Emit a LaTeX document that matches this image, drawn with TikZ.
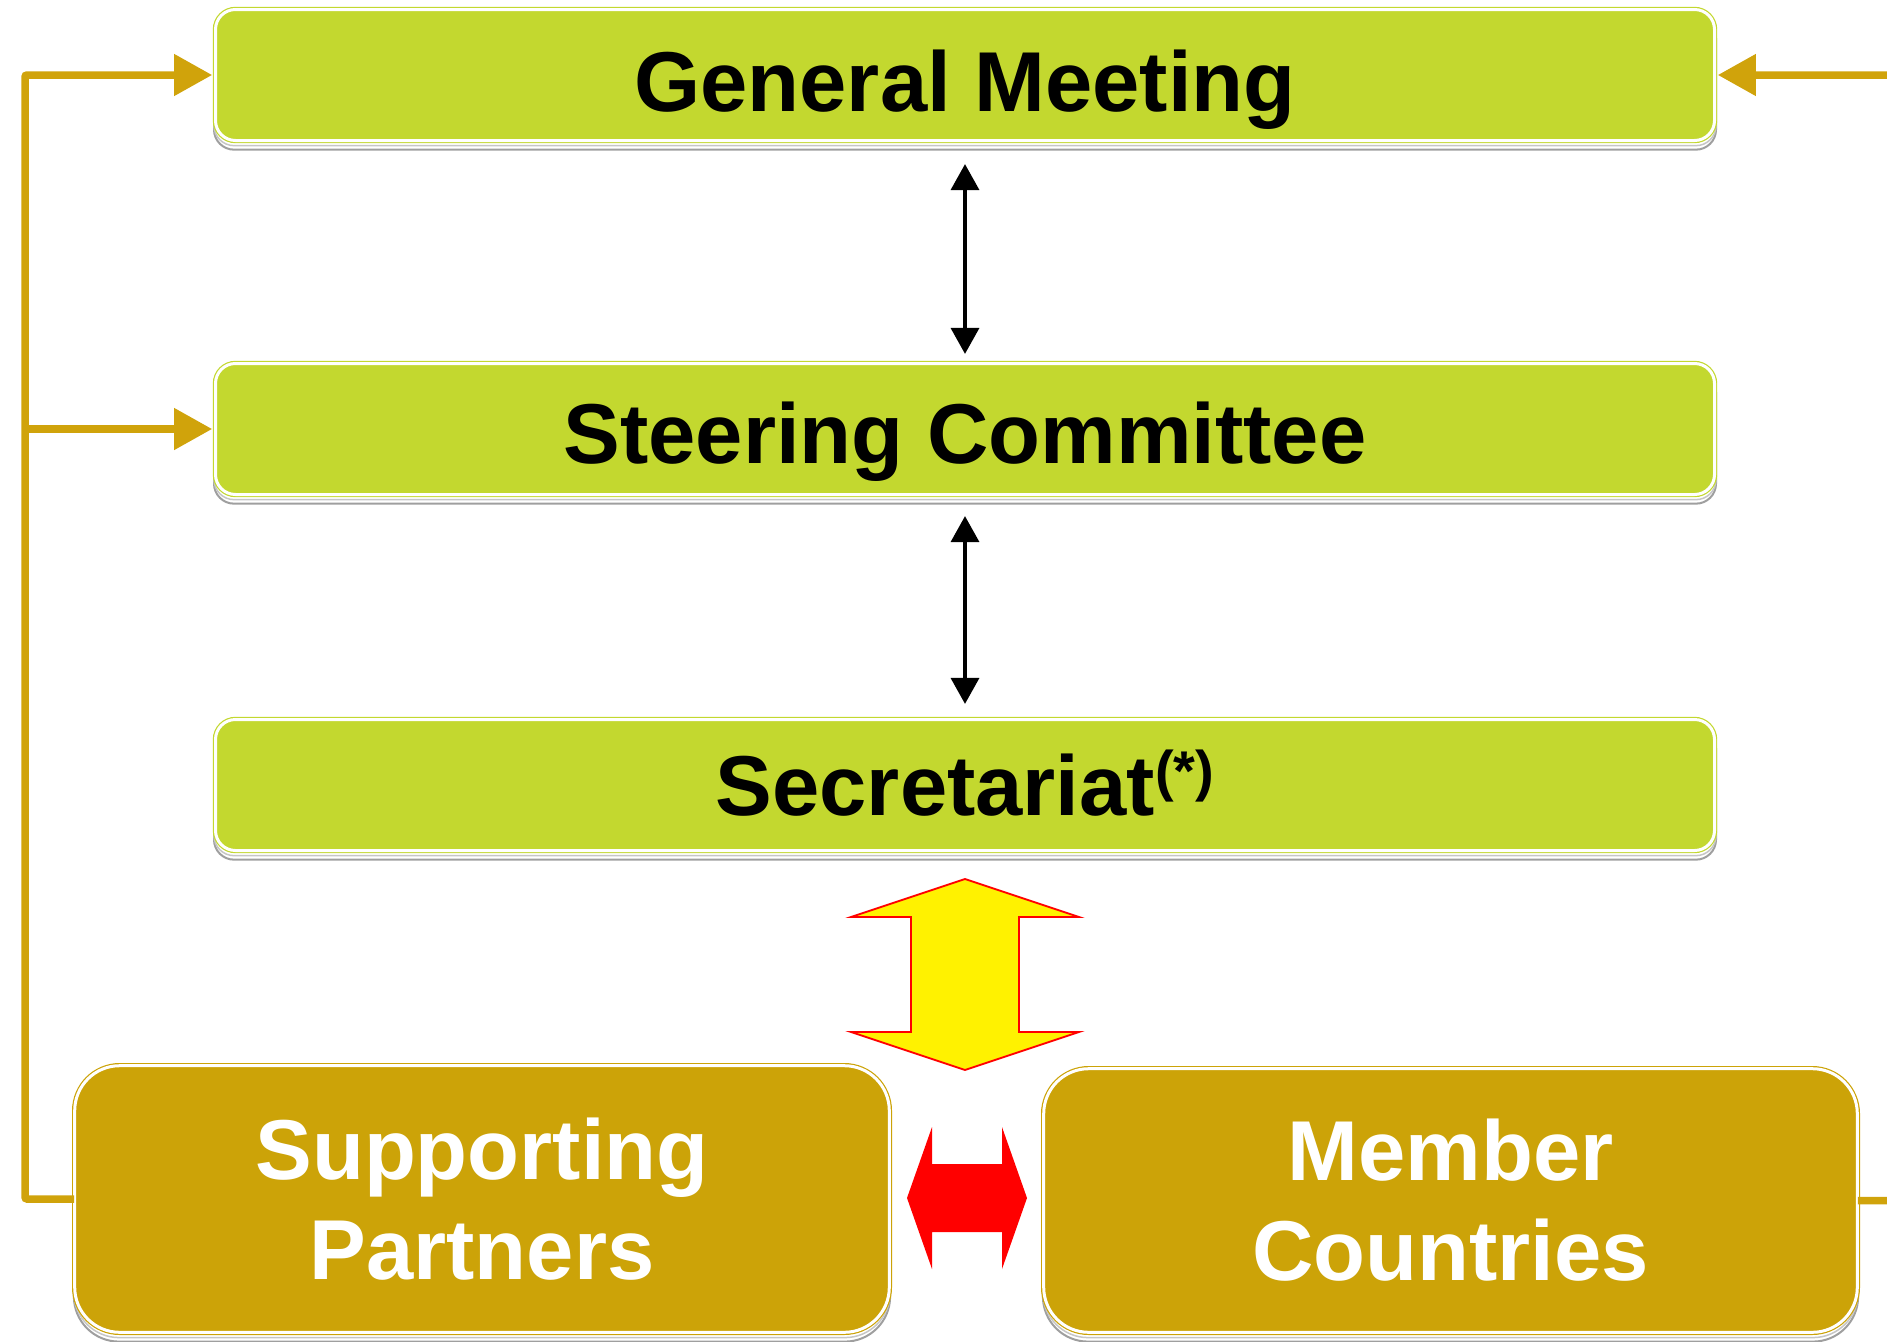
\documentclass[tikz,border=0pt]{standalone}
\usepackage{fontspec}
\setmainfont{Liberation Sans}
\usetikzlibrary{arrows.meta,shadows}
\definecolor{boxgreen}{HTML}{C3D82F}
\definecolor{boxgold}{HTML}{CCA308}
\definecolor{linegold}{HTML}{D0A30B}
\begin{document}
\begin{tikzpicture}[x=1pt,y=-1pt,
  boxbase/.style={draw=#1, double=white, double distance=3pt, line width=1.2pt, fill=#1, inner sep=0pt,
    copy shadow={shadow xshift=0pt, shadow yshift=-9pt, shadow scale=1.002, draw=gray!75, line width=2pt, fill=white},
    copy shadow={shadow xshift=0pt, shadow yshift=-5pt, shadow scale=1.002, draw=gray!45, line width=1.5pt, fill=white}},
  greenbox/.style={boxbase=boxgreen, rounded corners=20pt, minimum width=1499pt, minimum height=131pt,
    text depth=0pt, font=\bfseries\fontsize{85}{100}\selectfont},
  goldbox/.style={boxbase=boxgold, rounded corners=45pt, text=white, align=center,
    font=\bfseries\fontsize{85}{100}\selectfont},
  goldline/.style={draw=linegold, line width=7.5pt, rounded corners=2pt, -{Triangle[length=38pt,width=40pt]}},
  blackarrow/.style={draw=black, line width=3.5pt, {Triangle[length=26pt,width=28pt]}-{Triangle[length=26pt,width=28pt]}}
]
\useasboundingbox (0,0) rectangle (1887,1341);
\clip (0,0) rectangle (1887,1341);

% boxes
\node[greenbox, text height=72pt] (gm) at (965,75) {General Meeting};
\node[greenbox, text height=68pt] (sc) at (965,429) {Steering Committee};
\node[greenbox, text height=60pt] (sec) at (965,785) {Secretariat\raisebox{25pt}{\fontsize{56}{56}\selectfont(*)}};
\node[goldbox, minimum width=814.6pt, minimum height=266.6pt] (sp) at (482,1199) {Supporting\\Partners};
\node[goldbox, minimum width=813.6pt, minimum height=263.6pt] (mc) at (1450.5,1200.5) {Member\\Countries};

% black double arrows
\draw[blackarrow] ([yshift=-23pt]gm.south) -- ([yshift=9pt]sc.north);
\draw[blackarrow] ([yshift=-21pt]sc.south) -- ([yshift=15pt]sec.north);

% gold connectors
\coordinate (lb) at (25,1199);
\coordinate (lt) at (25,75);
\coordinate (lm) at (25,429);
\coordinate (rb) at (1905,1200.5);
\coordinate (rt) at (1905,75);
\draw[goldline] (sp.west) -- (lb) -- (lt) -- ([xshift=-2.7pt]gm.west);
\draw[goldline] (lm) -- ([xshift=-2.7pt]sc.west);
\draw[goldline] (mc.east) -- (rb) -- (rt) -- ([xshift=2.7pt]gm.east);

% yellow double arrow between secretariat and the members
\draw[draw=red, line width=1.8pt, fill=yellow, line join=miter]
  (965,879) -- (1079,917) -- (1019,917) -- (1019,1032) -- (1079,1032) -- (965,1070)
  -- (851,1032) -- (911,1032) -- (911,917) -- (851,917) -- cycle;

% red double arrow between the two bottom boxes
\fill[red] (907,1198) -- (932,1127) -- (932,1164) -- (1002,1164) -- (1002,1127) -- (1027,1198)
  -- (1002,1269) -- (1002,1232) -- (932,1232) -- (932,1269) -- cycle;
\end{tikzpicture}
\end{document}
